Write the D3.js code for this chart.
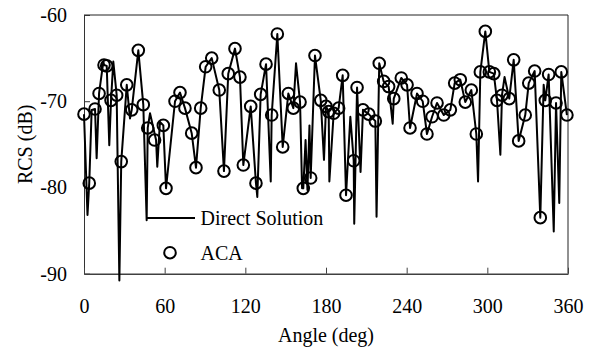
<!DOCTYPE html>
<html>
<head>
<meta charset="utf-8">
<script src="https://cdn.jsdelivr.net/npm/d3@7"></script>
<style>
  body { margin: 0; background: #fff; }
  svg text { font-family: "Liberation Serif", "Times New Roman", serif; }
</style>
</head>
<body>
<svg id="chart" width="595" height="354"></svg>
<script>
// Direct solution (dense line)
const directAngle = [0, 2.6, 3.9, 5.7, 8.2, 9.4, 11.2, 14.4, 14.9, 16.9, 18.8, 20.1, 21.8, 24.3, 26.3, 27.7,
  31.8, 34.2, 35.5, 40.4, 44.1, 46.6, 47.4, 49.1, 53.6, 54.5, 56.5, 59.0, 61.0, 67.7, 71.4, 75.1,
  80.1, 83.3, 86.8, 90.5, 95.0, 100.6, 104.1, 107.3, 112.3, 116.0, 118.5, 124.0, 127.9, 128.9, 131.4,
  135.4, 138.9, 139.6, 143.8, 147.8, 152.0, 155.7, 157.7, 160.7, 162.2, 163.1, 164.8, 166.2, 167.7,
  168.6, 171.8, 176.1, 178.5, 180.0, 182.0, 182.5, 185.7, 189.4, 192.4, 194.9, 198.1, 200.6, 201.0,
  203.1, 205.7, 207.5, 211.8, 216.7, 217.6, 219.6, 222.9, 226.6, 229.6, 230.4, 236.0, 240.3, 242.5,
  247.7, 251.9, 255.1, 258.9, 262.6, 267.6, 272.5, 275.7, 279.9, 283.6, 288.1, 291.8, 293.1, 294.8,
  298.5, 301.5, 304.8, 307.2, 309.7, 310.9, 312.8, 316.3, 319.6, 323.3, 328.2, 330.8, 335.2, 339.4,
  341.9, 343.1, 345.6, 349.4, 351.1, 353.5, 355.0, 359.2];
const directRCS = [-71.5, -83.2, -79.5, -71.0, -70.9, -76.6, -69.1, -65.4, -65.8, -65.9, -75.1, -69.9, -65.4, -69.3, -90.8, -77.0,
  -68.1, -72.0, -71.0, -64.1, -70.4, -83.8, -73.1, -71.4, -74.5, -77.6, -72.4, -72.8, -80.1, -70.0, -69.0, -70.8,
  -73.7, -77.7, -70.8, -66.0, -65.0, -68.7, -78.1, -66.8, -63.9, -67.2, -77.4, -70.6, -79.5, -81.1, -69.2,
  -65.7, -79.3, -71.6, -62.2, -75.3, -69.1, -70.8, -65.6, -70.1, -80.1, -80.1, -74.5, -80.3, -72.8,
  -78.9, -64.7, -69.9, -76.8, -70.6, -71.2, -79.3, -71.4, -70.8, -67.0, -80.9, -71.8, -76.9, -84.2,
  -68.4, -78.2, -71.0, -71.5, -72.3, -83.4, -65.6, -67.7, -68.3, -72.6, -69.7, -67.3, -68.1, -73.1,
  -69.1, -70.0, -73.8, -71.8, -70.2, -71.6, -71.0, -67.9, -67.5, -70.1, -68.7, -73.8, -79.3, -66.6,
  -61.9, -66.6, -66.8, -69.9, -76.2, -69.3, -67.2, -69.7, -65.2, -74.6, -71.6, -67.9, -66.5, -83.5,
  -68.1, -69.9, -66.9, -85.1, -70.2, -81.8, -66.6, -71.6];

// ACA samples (circles)
const acaAngle = [0, 3.9, 8.2, 11.2, 14.9, 16.9, 20.1, 24.3, 27.7, 31.8, 35.5, 40.4, 44.1, 47.4, 52.5, 59.0,
  61.0, 67.7, 71.4, 75.1, 80.1, 83.3, 86.8, 90.5, 95.0, 100.6, 104.1, 107.3, 112.3, 116.0, 118.5,
  124.0, 127.9, 131.4, 135.4, 139.6, 143.8, 147.8, 152.0, 155.7, 160.7, 163.1, 168.6, 171.8, 176.1,
  180.0, 182.0, 185.7, 189.4, 192.4, 194.9, 200.6, 203.1, 207.5, 211.8, 216.7, 219.6, 222.9, 226.6,
  230.4, 236.0, 240.3, 242.5, 247.7, 251.9, 255.1, 258.9, 262.6, 267.6, 272.5, 275.7, 279.9, 283.6,
  288.1, 291.8, 294.8, 298.5, 301.5, 304.8, 307.2, 310.9, 316.3, 319.6, 323.3, 328.2, 330.8, 335.2,
  339.4, 343.1, 345.6, 351.1, 355.0, 359.2];
const acaRCS = [-71.5, -79.5, -70.9, -69.1, -65.8, -65.9, -69.9, -69.3, -77.0, -68.1, -71.0, -64.1, -70.4, -73.1, -74.5, -72.8,
  -80.1, -70.0, -69.0, -70.8, -73.7, -77.7, -70.8, -66.0, -65.0, -68.7, -78.1, -66.8, -63.9, -67.2, -77.4,
  -70.6, -79.5, -69.2, -65.7, -71.6, -62.2, -75.3, -69.1, -70.8, -70.1, -80.1, -78.9, -64.7, -69.9,
  -70.6, -71.2, -71.4, -70.8, -67.0, -80.9, -76.9, -68.4, -71.0, -71.5, -72.3, -65.6, -67.7, -68.3,
  -69.7, -67.3, -68.1, -73.1, -69.1, -70.0, -73.8, -71.8, -70.2, -71.6, -71.0, -67.9, -67.5, -70.1,
  -68.7, -73.8, -66.6, -61.9, -66.6, -66.8, -69.9, -69.3, -69.7, -65.2, -74.6, -71.6, -67.9, -66.5,
  -83.5, -69.9, -66.9, -70.2, -66.6, -71.6];

const xTicks = [0, 60, 120, 180, 240, 300, 360];
const yTicks = [-90, -80, -70, -60];

const svg = d3.select("#chart");
const plotL = 84, plotR = 568, plotT = 15, plotB = 273.7;
const serif = "Liberation Serif, Times New Roman, serif";

const x = d3.scaleLinear().domain([0, 360]).range([plotL, plotR]);
const y = d3.scaleLinear().domain([-90, -60]).range([plotB, plotT]);

// frame: top and right borders
svg.append("path")
  .attr("d", `M${plotL},${plotT}H${plotR}V${plotB}`)
  .attr("fill", "none")
  .attr("stroke", "#222")
  .attr("stroke-width", 1);

// y axis, ticks pointing in; plain hyphen minus like the original
const yAxis = svg.append("g")
  .attr("transform", `translate(${plotL},0)`)
  .call(d3.axisLeft(y).tickValues(yTicks).tickFormat(d => String(d))
    .tickSizeInner(-6).tickSizeOuter(0).tickPadding(17));
yAxis.attr("font-family", serif).attr("font-size", 20);
yAxis.select(".domain").attr("stroke", "#333");
yAxis.selectAll(".tick line").attr("stroke", "#333");
yAxis.selectAll("text").attr("fill", "#000");

// x axis, ticks pointing up
const xAxis = svg.append("g")
  .attr("transform", `translate(0,${plotB})`)
  .call(d3.axisBottom(x).tickValues(xTicks).tickFormat(d => String(d))
    .tickSizeInner(-6).tickSizeOuter(0).tickPadding(25));
xAxis.attr("font-family", serif).attr("font-size", 20);
xAxis.select(".domain").attr("stroke", "#404040").attr("stroke-width", 1.5);
xAxis.selectAll(".tick line").attr("stroke", "#404040");
xAxis.selectAll("text").attr("fill", "#000");

// axis titles
svg.append("text")
  .attr("x", (plotL + plotR) / 2)
  .attr("y", 341.5)
  .attr("text-anchor", "middle")
  .attr("font-size", 20)
  .text("Angle (deg)");

svg.append("text")
  .attr("transform", `translate(32,${(plotT + plotB) / 2}) rotate(-90)`)
  .attr("text-anchor", "middle")
  .attr("font-size", 20)
  .text("RCS (dB)");

// direct solution line
const direct = directAngle.map((a, i) => ({a: a, v: directRCS[i]}));
const line = d3.line().x(d => x(d.a)).y(d => y(d.v));

svg.append("path")
  .datum(direct)
  .attr("d", line)
  .attr("fill", "none")
  .attr("stroke", "#000")
  .attr("stroke-width", 2)
  .attr("stroke-linejoin", "round");

// ACA circles
const aca = acaAngle.map((a, i) => ({a: a, v: acaRCS[i]}));
svg.append("g").selectAll("circle")
  .data(aca)
  .join("circle")
    .attr("cx", d => x(d.a))
    .attr("cy", d => y(d.v))
    .attr("r", 5.8)
    .attr("fill", "none")
    .attr("stroke", "#000")
    .attr("stroke-width", 2);

// legend
const legend = svg.append("g");
legend.append("line")
  .attr("x1", 147).attr("x2", 195)
  .attr("y1", 218).attr("y2", 218)
  .attr("stroke", "#000")
  .attr("stroke-width", 2);
legend.append("text")
  .attr("x", 200.5).attr("y", 225)
  .attr("font-size", 20)
  .text("Direct Solution");
legend.append("circle")
  .attr("cx", 170).attr("cy", 252.7)
  .attr("r", 5.8)
  .attr("fill", "#fff")
  .attr("stroke", "#000")
  .attr("stroke-width", 2);
legend.append("text")
  .attr("x", 200.5).attr("y", 260)
  .attr("font-size", 20)
  .text("ACA");
</script>
</body>
</html>
